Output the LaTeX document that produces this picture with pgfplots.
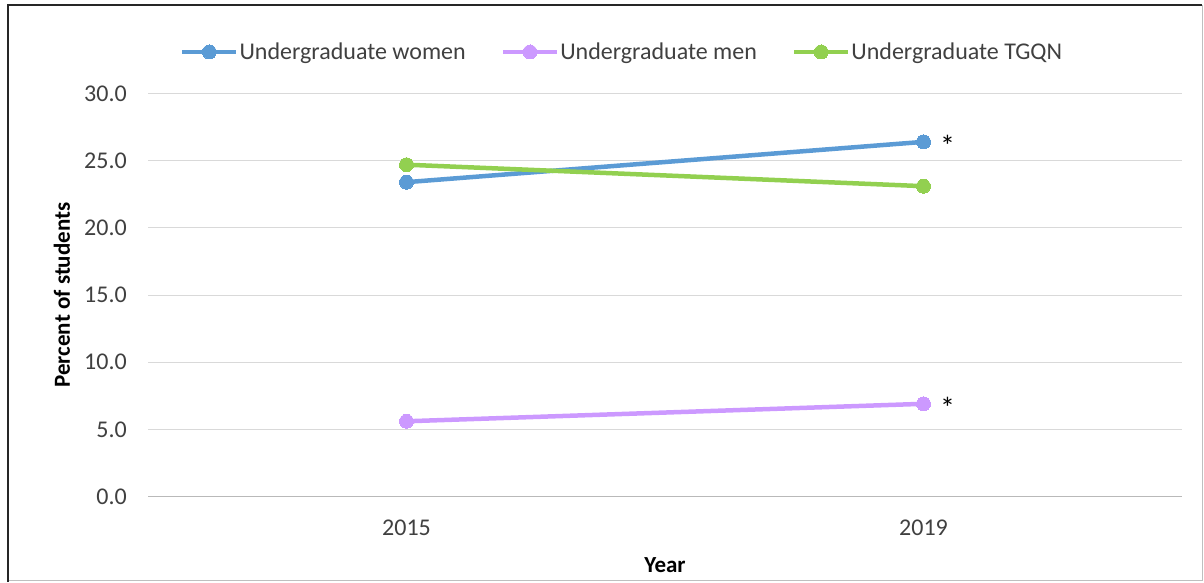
\documentclass[border=0pt]{standalone}
\usepackage{pgfplots}
\pgfplotsset{compat=1.18}
\usepackage{fontspec}
\setmainfont{Carlito}
\definecolor{cblue}{RGB}{91,155,213}
\definecolor{clav}{RGB}{204,153,255}
\definecolor{cgreen}{RGB}{146,208,80}
\definecolor{ctxt}{RGB}{64,64,64}
\begin{document}
\begin{tikzpicture}
\useasboundingbox (0,0) rectangle (1204pt,582pt);
\draw[gray!50, line width=1pt] (8pt,2pt) -- (1202pt,2pt) -- (1202pt,577pt);
\draw[black!85, line width=1.3pt] (8pt,0pt) -- (8pt,577pt) -- (1202pt,577pt);
\begin{axis}[
  at={(148pt,85.5pt)}, anchor=south west,
  scale only axis, width=1034pt, height=403pt,
  xmin=-0.5, xmax=1.5, ymin=0, ymax=30,
  xtick={0,1}, xticklabels={2015,2019},
  ytick={0,5,...,30},
  axis lines*=left,
  x axis line style={gray!55, line width=1pt},
  y axis line style={draw=none},
  major tick length=0pt,
  ymajorgrids, grid style={gray!30, line width=1pt},
  /pgf/number format/assume math mode=true,
  yticklabel={\pgfmathprintnumber[fixed,fixed zerofill,precision=1]{\tick}},
  ticklabel style={font=\fontsize{24}{28}\selectfont, text=ctxt, inner sep=0pt},
  yticklabel style={anchor=east, xshift=-21pt},
  xticklabel style={anchor=center, yshift=-31pt},
  every axis y label/.style={at={(axis description cs:-0.0832,0.5)}, rotate=90, anchor=center, font=\fontsize{23}{26}\selectfont\bfseries},
  every axis x label/.style={at={(axis description cs:0.5,-0.171)}, anchor=center, font=\fontsize{23}{26}\selectfont\bfseries},
  ylabel={Percent of students},
  xlabel={Year},
  legend style={at={(0.458,1.103)}, anchor=center, draw=none, fill=none,
    legend columns=3, font=\fontsize{24}{28}\selectfont, text=ctxt,
    /tikz/every even column/.append style={column sep=34pt},
    inner sep=0pt, nodes={inner sep=1pt}},
  legend image code/.code={\draw[mark repeat=2,mark phase=2] plot coordinates {(0pt,0pt)(27pt,0pt)(54pt,0pt)};},
  every axis plot/.append style={line width=4.5pt, mark=*, mark size=7pt},
  clip=false,
]
\addplot[color=cblue, mark options={fill=cblue, draw=cblue, line width=0pt}] coordinates {(0,23.4) (1,26.4)};
\addlegendentry{Undergraduate women}
\addplot[color=clav, mark options={fill=clav, draw=clav, line width=0pt}] coordinates {(0,5.6) (1,6.9)};
\addlegendentry{Undergraduate men}
\addplot[color=cgreen, mark options={fill=cgreen, draw=cgreen, line width=0pt}] coordinates {(0,24.7) (1,23.1)};
\addlegendentry{Undergraduate TGQN}
\node[anchor=west, font=\fontsize{30}{32}\selectfont, xshift=13pt, yshift=-4pt] at (axis cs:1,26.4) {*};
\node[anchor=west, font=\fontsize{30}{32}\selectfont, xshift=13pt, yshift=-4pt] at (axis cs:1,6.9) {*};
\end{axis}
\end{tikzpicture}
\end{document}
